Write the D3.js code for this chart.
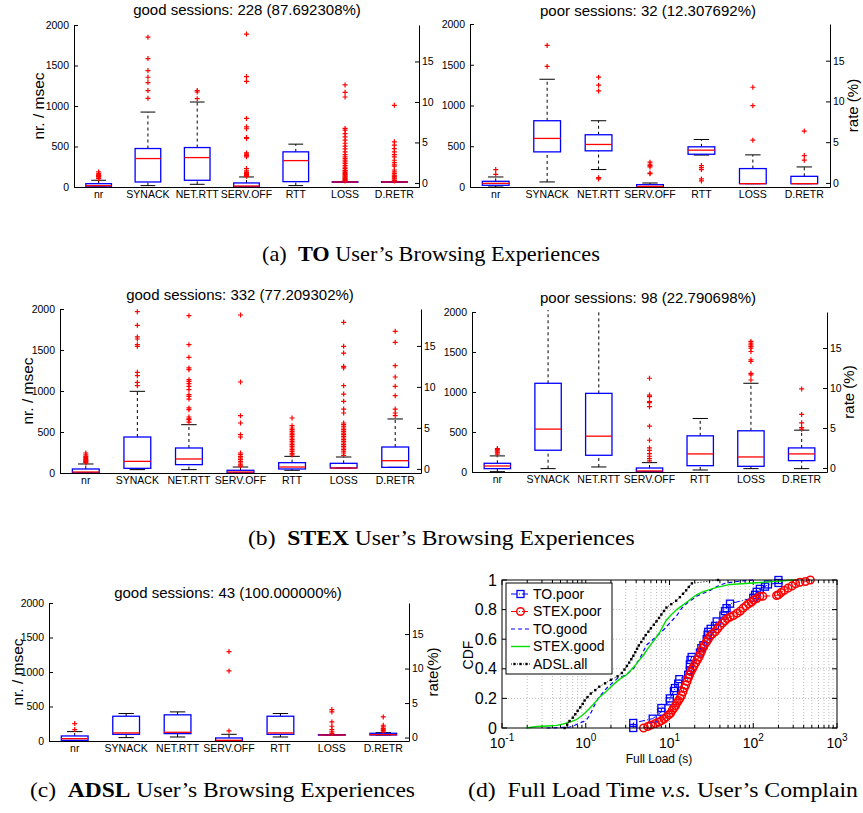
<!DOCTYPE html>
<html>
<head>
<meta charset="utf-8">
<script src="https://cdn.jsdelivr.net/npm/d3@7"></script>
<style>
  body { margin: 0; background: #fff; }
</style>
</head>
<body>
<svg id="fig" width="863" height="813"></svg>
<script>
var SANS = '"Liberation Sans", Arial, Helvetica, sans-serif';
var SERIF = '"Liberation Serif", "Times New Roman", serif';

var categories = ["nr", "SYNACK", "NET.RTT", "SERV.OFF", "RTT", "LOSS", "D.RETR"];
var leftTicks = [0, 500, 1000, 1500, 2000];
var rateTicks = [0, 5, 10, 15];

// box stats per category: [low whisker, q1, median, q3, high whisker]
var toGoodBox = [[0, 2, 16, 41, 83], [17, 62, 351, 475, 925], [33, 83, 363, 487, 1049], [0, 2, 12, 50, 124],
  [17, 66, 326, 434, 529], [58, 58, 62, 66, 66], [58, 58, 62, 66, 66]];
var toGoodOut = [
  [103, 110, 124, 130, 140, 145, 150, 165, 186],
  [1095, 1190, 1289, 1355, 1437, 1586, 1850],
  [1090, 1173, 1190],
  [132, 140, 149, 157, 165, 174, 182, 200, 227, 372, 390, 405, 421, 599, 611, 719, 743, 847, 1305, 1363, 1888],
  [],
  [75, 83, 92, 103, 113, 124, 135, 145, 155, 165, 180, 195, 206, 227, 245, 268, 290, 310, 330, 350, 372, 400, 434, 470, 504, 540, 578, 620, 660, 702, 723, 1111, 1169, 1260],
  [75, 83, 99, 110, 124, 135, 145, 165, 186, 210, 256, 273, 300, 330, 372, 400, 434, 475, 516, 558, 1008]
];

var toPoorBox = [[0, 21, 45, 70, 123], [62, 431, 596, 813, 1322], [214, 444, 522, 641, 813], [0, 2, 8, 29, 49],
  [392, 402, 452, 493, 583], [41, 41, 41, 226, 394], [41, 41, 41, 131, 246]];
var toPoorOut = [[156, 214], [1479, 1737], [99, 115, 1179, 1249, 1347], [164, 172, 246, 262, 279, 304],
  [74, 99, 214, 238, 263], [575, 998, 1224], [329, 386, 686]];

var stexGoodBox = [[0, 2, 12, 49, 110], [41, 57, 142, 439, 996], [41, 102, 171, 305, 589], [0, 2, 12, 33, 73],
  [33, 49, 73, 126, 203], [61, 61, 61, 118, 195], [69, 69, 150, 317, 659]];
var stexGoodOut = [
  [122, 130, 142, 150, 163, 175, 190, 203, 220, 244],
  [1065, 1106, 1187, 1228, 1545, 1565, 1634, 1659, 1801, 1967],
  [620, 650, 659, 683, 772, 793, 902, 935, 955, 1016, 1057, 1090, 1118, 1138, 1260, 1281, 1411, 1565, 1919],
  [85, 100, 122, 140, 163, 183, 200, 224, 244, 439, 467, 610, 699, 1110, 1927],
  [220, 240, 264, 285, 305, 325, 346, 366, 386, 406, 427, 447, 467, 487, 508, 528, 549, 577, 671],
  [215, 244, 265, 285, 305, 325, 346, 366, 386, 406, 427, 447, 467, 487, 508, 528, 549, 570, 589, 610, 732, 780, 874, 963, 1065, 1281, 1301, 1463, 1545, 1837],
  [699, 732, 780, 943, 1057, 1171, 1309, 1594, 1728]
];

var stexPoorBox = [[4, 42, 75, 109, 201], [42, 272, 536, 1109, 2600], [63, 209, 448, 983, 2600], [0, 2, 13, 50, 117],
  [25, 79, 226, 452, 669], [42, 71, 188, 515, 1109], [42, 142, 226, 301, 523]];
var stexPoorOut = [[222, 238, 250, 264, 280, 293], [], [], [140, 167, 197, 230, 270, 301, 397, 573, 816, 866, 879, 941, 962, 1172],
  [], [1150, 1213, 1234, 1381, 1402, 1506, 1548, 1570, 1590, 1611, 1632], [535, 556, 615, 720, 1038]];

var adslGoodBox = [[0, 10, 34, 73, 136], [49, 97, 117, 359, 398], [58, 107, 126, 379, 422], [0, 2, 10, 44, 97],
  [58, 97, 117, 359, 398], [87, 87, 87, 92, 92], [87, 87, 92, 112, 121]];
var adslGoodOut = [[165, 252], [], [], [146, 1015, 1296], [], [107, 131, 165, 214, 277, 422, 456],
  [131, 155, 170, 180, 204, 228, 349]];

// CDF of full load time: [seconds, cdf]
var cdfToPoor = [[3.69, 0], [3.69, 0.034], [6.3, 0.063], [8.0, 0.11], [8.0, 0.135], [10.1, 0.18], [10.1, 0.20], [11.3, 0.25],
  [11.6, 0.27], [12.7, 0.30], [13.1, 0.33], [16.7, 0.36], [17.5, 0.39], [17.5, 0.43], [17.8, 0.46], [18.4, 0.48], [23.1, 0.51],
  [24, 0.54], [25.4, 0.56], [27.8, 0.60], [28.5, 0.63], [29, 0.65], [31, 0.67], [34.9, 0.69], [36.6, 0.72], [44, 0.76], [46, 0.79],
  [48, 0.81], [52.8, 0.84], [100, 0.88], [105, 0.9], [110, 0.92], [120, 0.94], [138, 0.955], [150, 0.97], [200, 0.98], [200, 1.0]];
var cdfStexPoor = [[4.9, 0], [5.5, 0.01], [6.0, 0.02], [6.8, 0.03], [7.5, 0.04], [8.0, 0.05], [8.6, 0.06], [9.2, 0.075], [9.8, 0.09],
  [10.3, 0.1], [10.8, 0.12], [11.3, 0.135], [11.8, 0.15], [12.3, 0.17], [12.8, 0.185], [13.3, 0.2], [13.9, 0.22], [14.5, 0.245],
  [15.0, 0.27], [15.6, 0.29], [16.2, 0.315], [16.8, 0.34], [17.4, 0.36], [18.0, 0.38], [18.8, 0.40], [19.6, 0.42], [20.5, 0.44],
  [21.5, 0.46], [22.5, 0.48], [23.3, 0.50], [24.2, 0.52], [25.0, 0.54], [26.0, 0.56], [27.5, 0.58], [29, 0.60], [30.5, 0.62],
  [32.5, 0.635], [35, 0.65], [37.5, 0.67], [40, 0.69], [43, 0.71], [46, 0.725], [49, 0.74], [53, 0.75], [58, 0.76], [64, 0.775],
  [70, 0.79], [76, 0.81], [82, 0.825], [88, 0.84], [95, 0.85], [101, 0.865], [110, 0.875], [120, 0.89], [130, 0.89], [190, 0.895],
  [200, 0.9], [215, 0.915], [235, 0.93], [260, 0.945], [290, 0.96], [320, 0.975], [360, 0.985], [420, 0.99], [480, 1.0]];
var cdfToGood = [[0.34, 0], [0.5, 0.003], [0.64, 0.005], [0.75, 0.02], [0.85, 0.034], [0.95, 0.045], [1.02, 0.056], [1.1, 0.08],
  [1.17, 0.11], [1.25, 0.145], [1.34, 0.18], [1.45, 0.21], [1.61, 0.24], [1.75, 0.265], [1.94, 0.29], [2.2, 0.315], [2.44, 0.34],
  [2.75, 0.35], [3.07, 0.36], [3.4, 0.385], [3.69, 0.40], [4.0, 0.43], [4.43, 0.47], [4.9, 0.52], [5.3, 0.56], [6.0, 0.585],
  [6.7, 0.61], [7.5, 0.635], [8.4, 0.66], [9.2, 0.685], [10.1, 0.71], [11.1, 0.735], [12.2, 0.76], [13.1, 0.785], [14, 0.81],
  [15.3, 0.83], [16.7, 0.85], [18.8, 0.87], [21, 0.89], [25.4, 0.91], [30.5, 0.93], [36.6, 0.955], [42, 0.97], [48, 0.98], [63, 0.99], [100, 1.0]];
var cdfStexGood = [[0.195, 0], [0.26, 0.01], [0.35, 0.014], [0.45, 0.018], [0.52, 0.025], [0.59, 0.034], [0.68, 0.045], [0.77, 0.056],
  [0.87, 0.078], [0.97, 0.10], [1.1, 0.13], [1.22, 0.157], [1.35, 0.185], [1.47, 0.21], [1.7, 0.24], [1.94, 0.27], [2.2, 0.30],
  [2.55, 0.33], [2.8, 0.345], [3.07, 0.36], [3.45, 0.39], [3.86, 0.42], [4.3, 0.455], [4.86, 0.49], [5.4, 0.53], [6.1, 0.57],
  [6.9, 0.61], [7.7, 0.65], [8.4, 0.69], [9.2, 0.73], [10.5, 0.765], [12.2, 0.80], [14, 0.825], [16, 0.85], [18.3, 0.875], [21, 0.90],
  [25, 0.92], [30, 0.935], [36.6, 0.95], [52.8, 0.97], [100, 0.98], [210, 0.993], [300, 1.0]];
var cdfAdslAll = [[0.56, 0], [0.6, 0.023], [0.64, 0.047], [0.7, 0.07], [0.75, 0.093], [0.8, 0.116], [0.86, 0.14], [0.92, 0.163],
  [0.97, 0.186], [1.05, 0.209], [1.15, 0.233], [1.3, 0.256], [1.45, 0.279], [1.7, 0.302], [2.0, 0.326], [2.4, 0.349], [2.7, 0.372],
  [2.9, 0.395], [3.1, 0.419], [3.3, 0.442], [3.5, 0.465], [3.7, 0.488], [3.9, 0.512], [4.1, 0.535], [4.3, 0.558], [4.6, 0.581],
  [4.9, 0.605], [5.2, 0.628], [5.6, 0.651], [6.0, 0.674], [6.5, 0.698], [7.0, 0.721], [7.5, 0.744], [8.0, 0.767], [8.6, 0.791],
  [9.2, 0.814], [10.5, 0.837], [12, 0.86], [13.3, 0.884], [14.5, 0.907], [15.8, 0.93], [17, 0.953], [18.5, 0.977], [38, 1.0]];
var legendNames = ["TO.poor", "STEX.poor", "TO.good", "STEX.good", "ADSL.all"];
var cdfYTicks = [0, 0.2, 0.4, 0.6, 0.8, 1];
var cdfXTicks = [0.1, 1, 10, 100, 1000];
var cdfXExp = ["-1", "0", "1", "2", "3"];

var svg = d3.select('#fig');
svg.append('rect').attr('width', 863).attr('height', 813).attr('fill', '#fff');

var clipId = 0;
function boxPanel(p) {
  var x = d3.scaleBand().domain(categories).range([p.left, p.right]);
  var y = d3.scaleLinear().domain([0, 2000]).range([p.bottom, p.top]);
  var rate = d3.scaleLinear().domain([-0.5, 19.5]).range([p.bottom, p.top]);
  var bw = x.bandwidth();
  var boxW = bw * 0.52, capW = bw * 0.3;

  var g = svg.append('g');
  if (p.cover) {
    g.append('rect').attr('x', p.cover).attr('y', p.top - 28)
      .attr('width', 863 - p.cover).attr('height', p.bottom - p.top + 50).attr('fill', '#fff');
  }

  g.append('text').attr('x', p.titleX).attr('y', p.titleY).attr('text-anchor', 'middle')
    .attr('font-family', SANS).attr('font-size', 15).text(p.title);

  var ax = g.append('g').attr('transform', 'translate(' + p.left + ',0)')
    .call(d3.axisLeft(y).tickValues(leftTicks).tickFormat(d3.format('d'))
      .tickSizeInner(-4).tickSizeOuter(0).tickPadding(5));
  var ar = g.append('g').attr('transform', 'translate(' + p.right + ',0)')
    .call(d3.axisRight(rate).tickValues(rateTicks).tickFormat(d3.format('d'))
      .tickSizeInner(-4).tickSizeOuter(0).tickPadding(3));
  var ab = g.append('g').attr('transform', 'translate(0,' + p.bottom + ')')
    .call(d3.axisBottom(x).tickSize(0).tickPadding(4));
  [ax, ar, ab].forEach(function (a) {
    a.attr('font-family', SANS).attr('font-size', 10.5);
  });

  if (p.yLabel) {
    g.append('text').attr('transform', 'translate(' + p.yLabelX + ',' + ((p.top + p.bottom) / 2) + ') rotate(-90)')
      .attr('text-anchor', 'middle').attr('dominant-baseline', 'central')
      .attr('font-family', SANS).attr('font-size', 15.5).text(p.yLabel);
  }
  if (p.rateLabel) {
    g.append('text').attr('transform', 'translate(' + p.rateLabelX + ',' + ((p.top + p.bottom) / 2) + ') rotate(-90)')
      .attr('text-anchor', 'middle').attr('dominant-baseline', 'central')
      .attr('font-family', SANS).attr('font-size', 15).text(p.rateLabel);
  }

  var id = 'clip' + (clipId++);
  g.append('clipPath').attr('id', id).append('rect')
    .attr('x', p.left).attr('y', p.top - 2).attr('width', p.right - p.left).attr('height', p.bottom - p.top + 2);

  var cell = g.append('g').attr('clip-path', 'url(#' + id + ')')
    .selectAll('g').data(p.box).enter().append('g')
    .attr('transform', function (d, i) { return 'translate(' + (x(categories[i]) + bw / 2) + ',0)'; });

  // whiskers
  cell.append('line').attr('y1', function (d) { return y(d[3]); }).attr('y2', function (d) { return y(d[4]); })
    .attr('stroke', '#000').attr('stroke-dasharray', '3,3');
  cell.append('line').attr('y1', function (d) { return y(d[0]); }).attr('y2', function (d) { return y(d[1]); })
    .attr('stroke', '#000').attr('stroke-dasharray', '3,3');
  cell.append('line').attr('x1', -capW / 2).attr('x2', capW / 2)
    .attr('y1', function (d) { return y(d[4]); }).attr('y2', function (d) { return y(d[4]); }).attr('stroke', '#000');
  cell.append('line').attr('x1', -capW / 2).attr('x2', capW / 2)
    .attr('y1', function (d) { return y(d[0]); }).attr('y2', function (d) { return y(d[0]); }).attr('stroke', '#000');
  // box
  cell.append('rect').attr('x', -boxW / 2).attr('width', boxW)
    .attr('y', function (d) { return y(d[3]); })
    .attr('height', function (d) { return Math.max(0.5, y(d[1]) - y(d[3])); })
    .attr('fill', 'none').attr('stroke', '#0000ff').attr('stroke-width', 1.3);
  cell.append('line').attr('x1', -boxW / 2).attr('x2', boxW / 2)
    .attr('y1', function (d) { return y(d[2]); }).attr('y2', function (d) { return y(d[2]); })
    .attr('stroke', '#ff0000').attr('stroke-width', 1.3);
  // outliers
  cell.selectAll('path').data(function (d, i) { return p.out[i]; }).enter().append('path')
    .attr('d', 'M-2.5,0H2.5M0,-2.5V2.5')
    .attr('transform', function (v) { return 'translate(0,' + y(v) + ')'; })
    .attr('stroke', '#ff0000').attr('stroke-width', 1.2);
}

boxPanel({ box: toGoodBox, out: toGoodOut, left: 74, right: 419, top: 25, bottom: 187,
  title: 'good sessions: 228 (87.692308%)', titleX: 247, titleY: 15, yLabel: 'nr. / msec', yLabelX: 38 });
boxPanel({ box: stexGoodBox, out: stexGoodOut, left: 60, right: 421, top: 309, bottom: 473,
  title: 'good sessions: 332 (77.209302%)', titleX: 240, titleY: 300, yLabel: 'nr. / msec', yLabelX: 27 });
boxPanel({ box: toPoorBox, out: toPoorOut, left: 470, right: 830, top: 24, bottom: 187, cover: 437,
  title: 'poor sessions: 32 (12.307692%)', titleX: 648, titleY: 16, rateLabel: 'rate (%)', rateLabelX: 852 });
boxPanel({ box: stexPoorBox, out: stexPoorOut, left: 472, right: 827, top: 312, bottom: 472, cover: 437,
  title: 'poor sessions: 98 (22.790698%)', titleX: 648, titleY: 303, rateLabel: 'rate (%)', rateLabelX: 848 });
boxPanel({ box: adslGoodBox, out: adslGoodOut, left: 49, right: 409, top: 603, bottom: 741,
  title: 'good sessions: 43 (100.000000%)', titleX: 228, titleY: 598, yLabel: 'nr. / msec', yLabelX: 17,
  rateLabel: 'rate(%)', rateLabelX: 432 });

// ---- CDF panel ----
var cx = d3.scaleLog().domain([0.1, 1000]).range([502, 837]);
var cy = d3.scaleLinear().domain([0, 1]).range([728, 580]);
var cg = svg.append('g');

cg.selectAll('line.gx').data(cx.ticks().filter(function (v) { return v > 0.1 && v < 1000; })).enter().append('line')
  .attr('x1', cx).attr('x2', cx).attr('y1', cy(0)).attr('y2', cy(1))
  .attr('stroke', '#aaa').attr('stroke-width', 0.8).attr('stroke-dasharray', '1,2');
cg.selectAll('line.gy').data(cdfYTicks.slice(1, 5)).enter().append('line')
  .attr('x1', cx(0.1)).attr('x2', cx(1000)).attr('y1', cy).attr('y2', cy)
  .attr('stroke', '#aaa').attr('stroke-width', 0.8).attr('stroke-dasharray', '1,2');

// ticks inward on all sides
cg.selectAll('line.tx').data(cx.ticks()).enter().append('line')
  .attr('x1', cx).attr('x2', cx).attr('y1', cy(0))
  .attr('y2', function (v) { return cy(0) - (cdfXTicks.indexOf(v) >= 0 ? 5 : 3); }).attr('stroke', '#000');
cg.selectAll('line.tx2').data(cx.ticks()).enter().append('line')
  .attr('x1', cx).attr('x2', cx).attr('y1', cy(1))
  .attr('y2', function (v) { return cy(1) + (cdfXTicks.indexOf(v) >= 0 ? 5 : 3); }).attr('stroke', '#000');
cg.selectAll('line.ty').data(cdfYTicks).enter().append('line')
  .attr('x1', cx(0.1)).attr('x2', cx(0.1) + 5).attr('y1', cy).attr('y2', cy).attr('stroke', '#000');
cg.selectAll('line.ty2').data(cdfYTicks).enter().append('line')
  .attr('x1', cx(1000)).attr('x2', cx(1000) - 5).attr('y1', cy).attr('y2', cy).attr('stroke', '#000');

cg.selectAll('text.yt').data(cdfYTicks).enter().append('text')
  .attr('x', 497).attr('y', cy).attr('dy', '0.35em').attr('text-anchor', 'end')
  .attr('font-family', SANS).attr('font-size', 16).text(function (v) { return v; });
var xt = cg.selectAll('text.xt').data(cdfXTicks).enter().append('text')
  .attr('x', cx).attr('y', 748).attr('text-anchor', 'middle')
  .attr('font-family', SANS).attr('font-size', 14);
xt.append('tspan').text('10');
xt.append('tspan').attr('dy', -7).attr('font-size', 10).text(function (v, i) { return cdfXExp[i]; });

cg.append('text').attr('x', 659).attr('y', 763).attr('text-anchor', 'middle')
  .attr('font-family', SANS).attr('font-size', 12).text('Full Load (s)');
cg.append('text').attr('transform', 'translate(468,655) rotate(-90)').attr('text-anchor', 'middle')
  .attr('dominant-baseline', 'central').attr('font-family', SANS).attr('font-size', 14).text('CDF');

var line = d3.line().x(function (d) { return cx(d[0]); }).y(function (d) { return cy(d[1]); });
var series = [
  { data: cdfToPoor, color: '#0000ff', dash: '6,2,1,2', width: 1, marker: 'square' },
  { data: cdfStexPoor, color: '#ff0000', dash: '6,2,1,2', width: 1, marker: 'circle' },
  { data: cdfToGood, color: '#0000ff', dash: '4,3', width: 1.2, marker: null },
  { data: cdfStexGood, color: '#00e000', dash: null, width: 1.4, marker: null },
  { data: cdfAdslAll, color: '#000', dash: '1,2', width: 1, marker: 'dot' }
];

var plot = cg.append('g');
function drawMarker(sel, s) {
  if (s.marker === 'square') {
    sel.append('rect').attr('x', -3.5).attr('y', -3.5).attr('width', 7).attr('height', 7)
      .attr('fill', 'none').attr('stroke', s.color).attr('stroke-width', 1.3);
  } else if (s.marker === 'circle') {
    sel.append('circle').attr('r', 3.8).attr('fill', 'none').attr('stroke', s.color).attr('stroke-width', 1.5);
  } else if (s.marker === 'dot') {
    sel.append('rect').attr('x', -1.2).attr('y', -1.2).attr('width', 2.4).attr('height', 2.4).attr('fill', s.color);
  }
}
series.forEach(function (s) {
  plot.append('path').datum(s.data).attr('d', line).attr('fill', 'none')
    .attr('stroke', s.color).attr('stroke-width', s.width).attr('stroke-dasharray', s.dash);
  if (s.marker) {
    plot.selectAll(null).data(s.data).enter().append('g')
      .attr('transform', function (d) { return 'translate(' + cx(d[0]) + ',' + cy(d[1]) + ')'; })
      .each(function () { drawMarker(d3.select(this), s); });
  }
});

cg.append('rect').attr('x', cx(0.1)).attr('y', cy(1)).attr('width', cx(1000) - cx(0.1)).attr('height', cy(0) - cy(1))
  .attr('fill', 'none').attr('stroke', '#000');

// legend
var lg = cg.append('g');
lg.append('rect').attr('x', 506).attr('y', 583).attr('width', 106).attr('height', 91)
  .attr('fill', '#fff').attr('stroke', '#000');
var item = lg.selectAll('g').data(series).enter().append('g')
  .attr('transform', function (d, i) { return 'translate(0,' + (594 + i * 17.5) + ')'; });
item.append('line').attr('x1', 511).attr('x2', 530).attr('stroke', function (d) { return d.color; })
  .attr('stroke-width', function (d) { return d.width; }).attr('stroke-dasharray', function (d) { return d.dash; });
item.each(function (s) {
  var m = d3.select(this).append('g').attr('transform', 'translate(520.5,0)');
  if (s.marker === 'dot') {
    [-6, 0, 6].forEach(function (dx) {
      m.append('rect').attr('x', dx - 1.2).attr('y', -1.2).attr('width', 2.4).attr('height', 2.4).attr('fill', s.color);
    });
  } else drawMarker(m, s);
});
item.append('text').attr('x', 533).attr('dy', '0.35em').attr('font-family', SANS).attr('font-size', 14)
  .text(function (d, i) { return legendNames[i]; });

// ---- captions ----
function caption(parts, x0, baseline, width) {
  var t = svg.append('text').attr('x', 0).attr('y', 0).attr('font-family', SERIF).attr('font-size', 22);
  parts.forEach(function (p) {
    var ts = t.append('tspan').text(p.text);
    if (p.bold) ts.attr('font-weight', 'bold');
    if (p.italic) ts.attr('font-style', 'italic');
    if (p.dx) ts.attr('dx', p.dx);
  });
  var bb = t.node().getBBox();
  t.attr('transform', 'translate(' + x0 + ',' + baseline + ') scale(' + (width / bb.width) + ',1) translate(' + (-bb.x) + ',0)');
}
caption([{ text: '(a)' }, { text: 'TO', bold: true, dx: 11 }, { text: ' User\u2019s Browsing Experiences' }], 262, 261, 338);
caption([{ text: '(b)' }, { text: 'STEX', bold: true, dx: 11 }, { text: ' User\u2019s Browsing Experiences' }], 248, 545, 387);
caption([{ text: '(c)' }, { text: 'ADSL', bold: true, dx: 11 }, { text: ' User\u2019s Browsing Experiences' }], 30, 797, 385);
caption([{ text: '(d)' }, { text: 'Full Load Time ', dx: 11 }, { text: 'v.s.', italic: true }, { text: ' User\u2019s Complain' }], 468, 797, 390);
</script>
</body>
</html>
